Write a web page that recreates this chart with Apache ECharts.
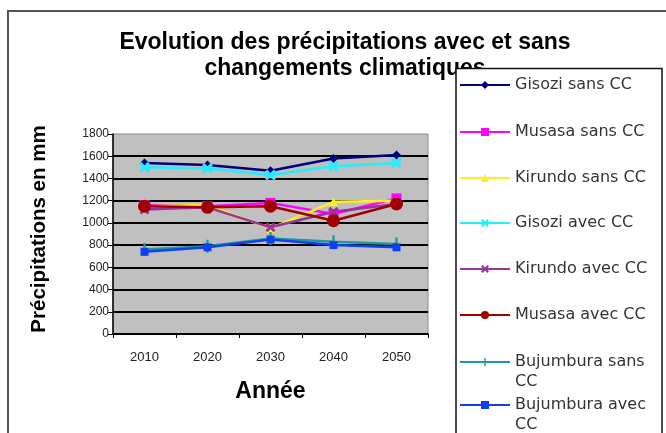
<!DOCTYPE html>
<html>
<head>
<meta charset="utf-8">
<script src="https://cdn.jsdelivr.net/npm/echarts@6/dist/echarts.min.js"></script>
<style>
  html, body { margin: 0; padding: 0; background: #fff; }
  #chart { width: 666px; height: 433px; }
</style>
</head>
<body>
<div id="chart"></div>
<script>
// Années (catégories de l'axe X)
const years = ['2010', '2020', '2030', '2040', '2050'];

// Précipitations annuelles (mm) par station
const gisoziSans    = [1540, 1520, 1470, 1580, 1610];
const musasaSans    = [1160, 1150, 1180, 1080, 1220];
const kirundoSans   = [1150, 1160, 950, 1190, 1200];
const gisoziAvec    = [1500, 1490, 1430, 1510, 1540];
const kirundoAvec   = [1120, 1140, 960, 1100, 1170];
const musasaAvec    = [1150, 1140, 1150, 1020, 1170];
const bujumburaSans = [760, 790, 860, 830, 810];
const bujumburaAvec = [740, 780, 850, 800, 780];

// Graduations de l'axe Y
const yMin = 0, yMax = 1800, yStep = 200;

const seriesNames = [
  'Gisozi sans CC', 'Musasa sans CC', 'Kirundo sans CC', 'Gisozi avec CC',
  'Kirundo avec CC', 'Musasa avec CC', 'Bujumbura sans CC', 'Bujumbura avec CC'
];
const seriesData = [
  gisoziSans, musasaSans, kirundoSans, gisoziAvec,
  kirundoAvec, musasaAvec, bujumburaSans, bujumburaAvec
];

// Croix pleine, et trait vertical fin (les deux points aux coins fixent la boîte carrée)
const X_SHAPE = 'path://M2,0 L5,3 L8,0 L10,2 L7,5 L10,8 L8,10 L5,7 L2,10 L0,8 L3,5 L0,2 Z';
const BAR_SHAPE = 'path://M0,0 L0.01,0 L0,0.01 Z M9.99,10 L10,10 L10,9.99 Z M4.1,0 L5.9,0 L5.9,10 L4.1,10 Z';

const styles = [
  { color: '#000080', symbol: 'diamond', size: 9 },
  { color: '#ff00ff', symbol: 'rect', size: 10 },
  { color: '#ffee22', symbol: 'triangle', size: 9 },
  { color: '#22eeff', symbol: X_SHAPE, size: 11 },
  { color: '#993399', symbol: X_SHAPE, size: 10 },
  { color: '#a00000', symbol: 'circle', size: 13 },
  { color: '#209999', symbol: BAR_SHAPE, size: 13 },
  { color: '#1040ee', symbol: 'rect', size: 8 }
];

const series = seriesNames.map((name, i) => ({
  name: name,
  type: 'line',
  data: seriesData[i],
  symbol: styles[i].symbol,
  symbolSize: styles[i].size,
  showAllSymbol: true,
  lineStyle: { color: styles[i].color, width: 2.5 },
  itemStyle: { color: styles[i].color },
  emphasis: { disabled: true },
  animation: false
}));

// Légende : une entrée par station, posée dans le cadre blanc
const legendCenters = [84, 131, 177, 222, 268, 314, 362, 405];
const legendFont = { fontFamily: 'DejaVu Sans', fontSize: 16, color: '#333' };
const legendLine = 19.5;
const legends = seriesNames.map((name, i) => {
  const twoLines = name.startsWith('Bujumbura');
  return {
    data: [name],
    orient: 'vertical',
    left: 459,
    top: twoLines ? legendCenters[i] - legendLine * 1.5 : legendCenters[i] - 7,
    padding: 0,
    itemWidth: 50,
    itemHeight: 10,
    itemGap: 0,
    z: 8,
    selectedMode: false,
    // le nom long passe sur deux lignes, la première alignée sur le symbole
    formatter: twoLines ? (n) => '\n' + n.replace(/ CC$/, '\nCC') : undefined,
    textStyle: Object.assign({ lineHeight: twoLines ? legendLine : 14 }, legendFont)
  };
});

const chart = echarts.init(document.getElementById('chart'), null, { renderer: 'canvas' });
chart.setOption({
  backgroundColor: '#ffffff',
  animation: false,
  title: {
    text: 'Evolution des précipitations avec et sans\nchangements climatiques',
    left: 340,
    top: 25,
    textAlign: 'center',
    textStyle: {
      fontFamily: 'Liberation Sans',
      fontSize: 23,
      fontWeight: 'bold',
      lineHeight: 26,
      color: '#000'
    }
  },
  legend: legends,
  grid: {
    left: 113,
    right: 238,
    top: 134,
    bottom: 99,
    show: true,
    backgroundColor: '#c0c0c0',
    borderColor: '#8a8a8a',
    borderWidth: 1
  },
  xAxis: {
    type: 'category',
    data: years,
    boundaryGap: true,
    name: 'Année',
    nameLocation: 'middle',
    nameGap: 46,
    nameTextStyle: { fontFamily: 'Liberation Sans', fontSize: 23, fontWeight: 'bold', color: '#000' },
    axisLine: { lineStyle: { color: '#000', width: 1.5 } },
    axisTick: { show: true, length: 4, inside: false, lineStyle: { color: '#000' } },
    axisLabel: { fontFamily: 'Liberation Sans', fontSize: 13, color: '#222', margin: 17 },
    splitLine: { show: false }
  },
  yAxis: {
    type: 'value',
    min: yMin,
    max: yMax,
    interval: yStep,
    name: 'Précipitations en mm',
    nameLocation: 'middle',
    nameRotate: 90,
    nameGap: 63,
    nameTextStyle: {
      fontFamily: 'Liberation Sans', fontSize: 20.5, fontWeight: 'bold', color: '#000',
      padding: [0, 0, 0, 10]
    },
    axisLine: { show: true, lineStyle: { color: '#000', width: 1.5 } },
    axisTick: { show: true, length: 5, inside: false, lineStyle: { color: '#000' } },
    axisLabel: {
      fontFamily: 'Liberation Sans', fontSize: 12, color: '#222', margin: 4,
      formatter: (v) => String(v)
    },
    splitLine: {
      show: true,
      lineStyle: {
        width: 2,
        color: ['#000', '#000', '#000', '#000', '#000', '#000', '#000', '#000', '#000', 'rgba(0,0,0,0)']
      }
    }
  },
  graphic: [
    {
      type: 'rect',
      z: 1,
      shape: { x: 8, y: 11, width: 700, height: 460 },
      style: { fill: 'none', stroke: '#555', lineWidth: 2 }
    },
    {
      type: 'rect',
      z: 7,
      shape: { x: 456, y: 68.5, width: 206, height: 400 },
      style: { fill: '#fff', stroke: '#111', lineWidth: 1.5 }
    }
  ],
  series: series
});
</script>
</body>
</html>
